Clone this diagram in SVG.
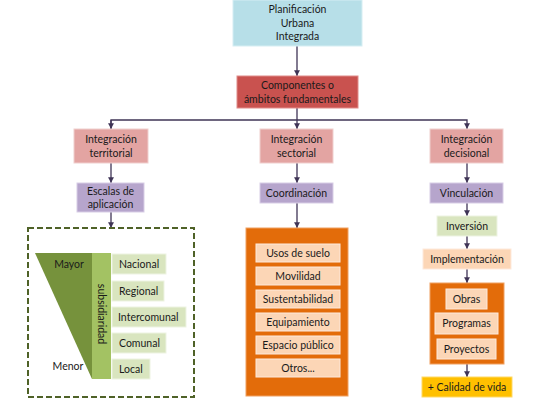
<svg xmlns="http://www.w3.org/2000/svg" width="540" height="400" viewBox="0 0 540 400">
<style>
text{font-family:"Lato","Liberation Sans",sans-serif;font-size:10.5px;fill:#1a1a1a;text-anchor:middle}
.l{text-anchor:start}
.cyan{fill:#b7dfe8;stroke:#d6eef3;stroke-width:1}
.red{fill:#c9524f;stroke:#e08c8a;stroke-width:1}
.pink{fill:#e3a4a2;stroke:#f0cfce;stroke-width:1}
.purple{fill:#b6a5cc;stroke:#d8cde6;stroke-width:1}
.lgreen{fill:#d9e5bf;stroke:#edf3e2;stroke-width:1}
.peach{fill:#fcd6b6;stroke:#fee9db;stroke-width:1}
.orange{fill:#e36c0a;stroke:#f0a060;stroke-width:1}
.gold{fill:#ffc000;stroke:#ffd966;stroke-width:1}
.c{fill:none;stroke:#3f3456;stroke-width:1.3}
</style>
<defs>
<marker id="ah" viewBox="0 0 10 10" refX="10" refY="5" markerWidth="4.5" markerHeight="4.5" orient="auto">
<path d="M0,0 L10,5 L0,10 z" fill="#3f3456"/>
</marker>
</defs>
<g id="connectors">
<line class="c" x1="297" y1="46" x2="297" y2="76" marker-end="url(#ah)"/>
<line class="c" x1="297" y1="108" x2="297" y2="129" marker-end="url(#ah)"/>
<polyline class="c" points="111,129 111,120 467,120 467,129" marker-end="url(#ah)"/>
<line class="c" x1="111" y1="120" x2="111" y2="129" marker-end="url(#ah)"/>
<line class="c" x1="111" y1="163" x2="111" y2="183" marker-end="url(#ah)"/>
<line class="c" x1="111" y1="212" x2="111" y2="228" marker-end="url(#ah)"/>
<line class="c" x1="297" y1="163" x2="297" y2="183" marker-end="url(#ah)"/>
<line class="c" x1="297" y1="203" x2="297" y2="228" marker-end="url(#ah)"/>
<line class="c" x1="467" y1="163" x2="467" y2="183" marker-end="url(#ah)"/>
<line class="c" x1="467" y1="203" x2="467" y2="216" marker-end="url(#ah)"/>
<line class="c" x1="467" y1="236" x2="467" y2="249" marker-end="url(#ah)"/>
<line class="c" x1="467" y1="269" x2="467" y2="283" marker-end="url(#ah)"/>
<line class="c" x1="467" y1="364" x2="467" y2="377" marker-end="url(#ah)"/>
</g>
<g id="planificacion">
<rect class="cyan" x="233" y="0" width="129" height="46"/>
<text x="297.5" y="13">Planificación</text>
<text x="297.5" y="27">Urbana</text>
<text x="297.5" y="40">Integrada</text>
</g>
<g id="componentes">
<rect class="red" x="237" y="76" width="121" height="32"/>
<text x="297.5" y="89">Componentes o</text>
<text x="297.5" y="103">ámbitos fundamentales</text>
</g>
<g id="int-territorial">
<rect class="pink" x="74" y="129" width="74" height="34"/>
<text x="111" y="143">Integración</text>
<text x="111" y="157">territorial</text>
</g>
<g id="int-sectorial">
<rect class="pink" x="260" y="129" width="73" height="34"/>
<text x="296.5" y="143">Integración</text>
<text x="296.5" y="157">sectorial</text>
</g>
<g id="int-decisional">
<rect class="pink" x="430" y="129" width="73" height="34"/>
<text x="466.5" y="143">Integración</text>
<text x="466.5" y="157">decisional</text>
</g>
<g id="escalas">
<rect class="purple" x="77" y="183" width="67" height="29"/>
<text x="110.5" y="195">Escalas de</text>
<text x="110.5" y="208">aplicación</text>
</g>
<g id="coordinacion">
<rect class="purple" x="260" y="183" width="73" height="20"/>
<text x="296.5" y="197">Coordinación</text>
</g>
<g id="vinculacion">
<rect class="purple" x="430" y="183" width="73" height="20"/>
<text x="466.5" y="197">Vinculación</text>
</g>
<g id="inversion">
<rect class="lgreen" x="437" y="216" width="60" height="20"/>
<text x="467" y="230">Inversión</text>
</g>
<g id="implementacion">
<rect class="peach" x="423" y="249" width="88" height="20"/>
<text x="467" y="263">Implementación</text>
</g>
<g id="escalas-panel">
<rect x="28" y="228" width="166" height="169" fill="none" stroke="#4f6228" stroke-width="2" stroke-dasharray="6,3"/>
<polygon points="35,253 92,253 92,379" fill="#76923c"/>
<rect x="92" y="253" width="19" height="126" fill="#a3c263"/>
<text transform="translate(98,314) rotate(90)">subsidiaridad</text>
<text x="69" y="268">Mayor</text>
<text x="68" y="370">Menor</text>
<rect class="lgreen" x="112" y="254" width="54" height="20"/>
<text class="l" x="119" y="268">Nacional</text>
<rect class="lgreen" x="112" y="281" width="52" height="20"/>
<text class="l" x="119" y="295">Regional</text>
<rect class="lgreen" x="112" y="307" width="74" height="20"/>
<text class="l" x="118" y="321">Intercomunal</text>
<rect class="lgreen" x="112" y="333" width="54" height="20"/>
<text class="l" x="119" y="347">Comunal</text>
<rect class="lgreen" x="112" y="359" width="38" height="20"/>
<text class="l" x="119" y="373">Local</text>
</g>
<g id="sectores">
<rect class="orange" x="246" y="228" width="102" height="168"/>
<rect class="peach" x="256" y="244" width="84" height="18"/>
<text x="298" y="257">Usos de suelo</text>
<rect class="peach" x="256" y="267" width="84" height="18"/>
<text x="298" y="280">Movilidad</text>
<rect class="peach" x="256" y="290" width="84" height="18"/>
<text x="298" y="303">Sustentabilidad</text>
<rect class="peach" x="256" y="313" width="84" height="18"/>
<text x="298" y="326">Equipamiento</text>
<rect class="peach" x="256" y="336" width="84" height="18"/>
<text x="298" y="349">Espacio público</text>
<rect class="peach" x="256" y="359" width="84" height="18"/>
<text x="298" y="372">Otros...</text>
</g>
<g id="obras-panel">
<rect class="orange" x="430" y="283" width="74" height="81"/>
<rect class="peach" x="446" y="289" width="41" height="20"/>
<text x="466.5" y="303">Obras</text>
<rect class="peach" x="435" y="313" width="63" height="21"/>
<text x="466.5" y="327">Programas</text>
<rect class="peach" x="437" y="339" width="59" height="20"/>
<text x="466.5" y="353">Proyectos</text>
</g>
<g id="calidad">
<rect class="gold" x="422" y="377" width="90" height="20"/>
<text x="467" y="391">+ Calidad de vida</text>
</g>
</svg>
